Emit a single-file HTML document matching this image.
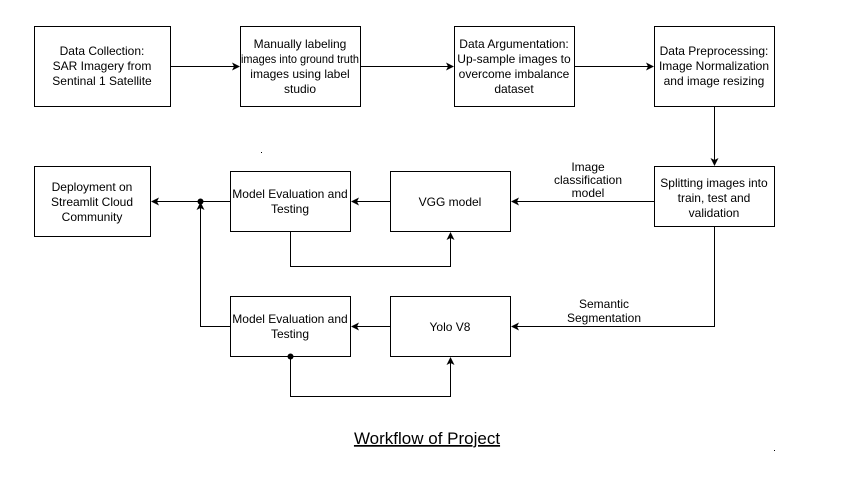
<!DOCTYPE html>
<html><head><meta charset="utf-8"><style>
html,body{margin:0;padding:0;background:#fff;}
svg{display:block;}
text{font-family:"Liberation Sans",Arial,sans-serif;font-size:12px;fill:#000;}
</style></head><body>
<svg width="866" height="491" viewBox="0 0 866 491" xmlns="http://www.w3.org/2000/svg">
<defs><marker id="a" markerWidth="8" markerHeight="8" refX="7" refY="4" orient="auto" markerUnits="userSpaceOnUse"><path d="M0,0 L8,4 L0,8 L2,4 Z" fill="#000"/></marker></defs>
<g fill="#fff" stroke="#000" stroke-width="1">
<rect x="34.5" y="26.5" width="136" height="80"/>
<rect x="240.5" y="26.5" width="120" height="80"/>
<rect x="454.5" y="26.5" width="120" height="80"/>
<rect x="654.5" y="26.5" width="120" height="80"/>
<rect x="654.5" y="166.5" width="120" height="60"/>
<rect x="34.5" y="166.5" width="116" height="70"/>
<rect x="230.5" y="171.5" width="120" height="60"/>
<rect x="390.5" y="171.5" width="120" height="60"/>
<rect x="230.5" y="296.5" width="120" height="60"/>
<rect x="390.5" y="296.5" width="120" height="60"/>
</g>
<g fill="none" stroke="#000" stroke-width="1" marker-end="url(#a)">
<path d="M170.5 66.5 H239"/>
<path d="M360.5 66.5 H453"/>
<path d="M574.5 66.5 H653"/>
<path d="M714.5 106.5 V165"/>
<path d="M654.5 201.5 H512"/>
<path d="M714.5 226.5 V326.5 H512"/>
<path d="M390.5 201.5 H352"/>
<path d="M390.5 326.5 H352"/>
<path d="M230.5 201.5 H152"/>
<path d="M290.5 231.5 V266.5 H450.5 V233"/>
<path d="M290.5 356.5 V396.5 H450.5 V358"/>
<path d="M230.5 326.5 H200.5 V203"/>
</g>
<circle cx="200.5" cy="201.5" r="3" fill="#000"/>
<circle cx="290.5" cy="356.5" r="3" fill="#000"/>
<g text-anchor="middle">
<text x="102" y="55">Data Collection:</text><text x="102" y="70">SAR Imagery from</text><text x="102" y="85">Sentinal 1 Satellite</text>
<text x="300" y="48">Manually labeling</text><text x="300" y="63" textLength="118" lengthAdjust="spacingAndGlyphs">images into ground truth</text><text x="300" y="78">images using label</text><text x="300" y="93">studio</text>
<text x="514" y="48">Data Argumentation:</text><text x="514" y="63">Up-sample images to</text><text x="514" y="78">overcome imbalance</text><text x="514" y="93">dataset</text>
<text x="714" y="55">Data Preprocessing:</text><text x="714" y="70">Image Normalization</text><text x="714" y="85">and image resizing</text>
<text x="714" y="187">Splitting images into</text><text x="714" y="202">train, test and</text><text x="714" y="217">validation</text>
<text x="92" y="191">Deployment on</text><text x="92" y="206">Streamlit Cloud</text><text x="92" y="221">Community</text>
<text x="290" y="198">Model Evaluation and</text><text x="290" y="213">Testing</text>
<text x="450" y="206">VGG model</text>
<text x="290" y="323">Model Evaluation and</text><text x="290" y="338">Testing</text>
<text x="450" y="331">Yolo V8</text>
<text x="588" y="171" font-size="10">Image</text><text x="588" y="184" font-size="10">classification</text><text x="588" y="197" font-size="10">model</text>
<text x="604" y="308" font-size="10">Semantic</text><text x="604" y="322" font-size="10">Segmentation</text>
<text x="427" y="444" style="font-size:17px;text-decoration:underline">Workflow of Project</text>
</g>
<rect x="261" y="152" width="1" height="1" fill="#000"/>
<rect x="774" y="450" width="1" height="1" fill="#000"/>
</svg>
</body></html>
